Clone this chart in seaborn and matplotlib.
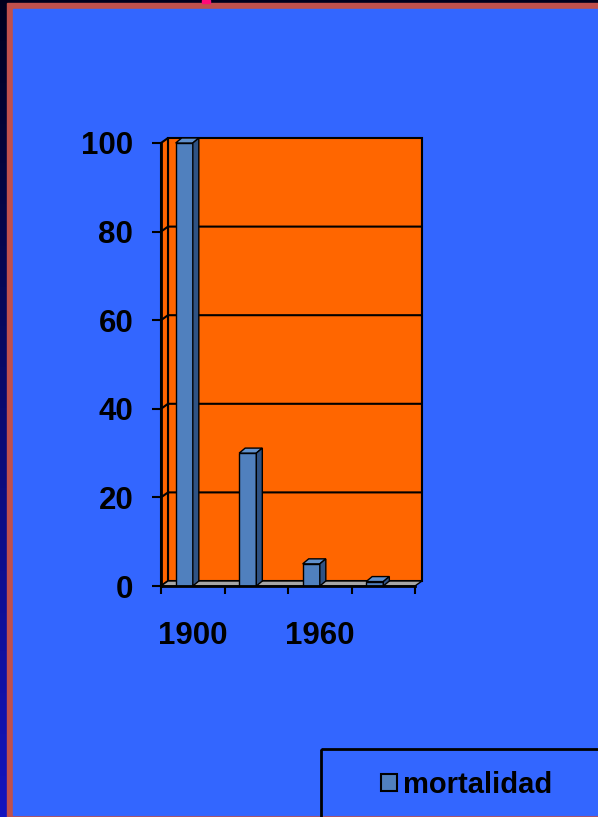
import numpy as np
import matplotlib
matplotlib.use("Agg")
import matplotlib.pyplot as plt
from matplotlib.patches import Rectangle, Polygon, Patch
import seaborn as sns

# --- data ---
years = ["1900", "1930", "1960", "1990"]
mortality = [100, 30, 5, 1]
shown_years = ["1900", "", "1960", ""]
y_ticks = [0, 20, 40, 60, 80, 100]
series_name = "mortalidad"

# --- colours ---
BLUE_BG = "#3366FF"
FRAME_RED = "#C0504D"
WALL = "#FF6600"
FLOOR = "#A6A6A6"
BAR_FRONT = "#5080BE"
BAR_TOP = "#6090CC"
BAR_SIDE = "#2F5283"

W, H, DPI = 598, 817, 100
sns.set_theme(style="white")
plt.rcParams["font.family"] = ["Liberation Sans", "DejaVu Sans"]
plt.rcParams["font.weight"] = "bold"
plt.rcParams["text.color"] = "black"
plt.rcParams["xtick.color"] = "black"
plt.rcParams["ytick.color"] = "black"
plt.rcParams["xtick.labelcolor"] = "black"
plt.rcParams["ytick.labelcolor"] = "black"

fig = plt.figure(figsize=(W / DPI, H / DPI), dpi=DPI)
fig.patch.set_facecolor("#00001C")

# --- slide backdrop, drawn in pixel coordinates ---
bg = fig.add_axes([0, 0, 1, 1], zorder=-5)
bg.set_xlim(0, W)
bg.set_ylim(H, 0)
bg.axis("off")
grad = np.linspace(0, 1, 256).reshape(-1, 1)
cmap = matplotlib.colors.LinearSegmentedColormap.from_list("edge", ["#00001E", "#1414C0"])
bg.imshow(grad, extent=[0, 7.5, H, 0], cmap=cmap, aspect="auto", zorder=0)
bg.add_patch(Rectangle((7, 3), W, H, color=FRAME_RED, zorder=1))
bg.add_patch(Rectangle((13, 9), W, 806, color=BLUE_BG, zorder=2))
bg.add_patch(Rectangle((202, 0), 8, 3, color="#FF0A78", zorder=2))
# legend frame running off the slide edge
bg.add_patch(Rectangle((321, 749), 320, 120, facecolor="none",
                       edgecolor="black", lw=2, zorder=3))

# --- chart axes (front plane) ---
x0p, x1p, y0p, y1p = 161, 415, 586, 143
ax = fig.add_axes([x0p / W, 1 - y0p / H, (x1p - x0p) / W, (y0p - y1p) / H])
ax.patch.set_visible(False)

sns.barplot(x=years, y=mortality, color=BAR_FRONT, width=0.27,
            edgecolor="black", linewidth=1, saturation=1, ax=ax, zorder=3)

ax.set_xlim(-0.5, len(years) - 0.5)
ax.set_ylim(0, 100)

# pixel -> data helpers
px_x = (x1p - x0p) / len(years)
px_y = (y0p - y1p) / 100.0
wall_dx, wall_dy = 7 / px_x, 5 / px_y
bar_dx, bar_dy = 6 / px_x, 5 / px_y
bar_shift = 8.5 / px_x

xmin, xmax = ax.get_xlim()

# back wall, side wall and floor
ax.add_patch(Polygon([(xmin + wall_dx, wall_dy), (xmax + wall_dx, wall_dy),
                      (xmax + wall_dx, 100 + wall_dy), (xmin + wall_dx, 100 + wall_dy)],
                     closed=True, facecolor=WALL, edgecolor="black", lw=1.5,
                     clip_on=False, zorder=0.5))
ax.add_patch(Polygon([(xmin, 0), (xmin, 100), (xmin + wall_dx, 100 + wall_dy),
                      (xmin + wall_dx, wall_dy)],
                     closed=True, facecolor=WALL, edgecolor="black", lw=1.5,
                     clip_on=False, zorder=0.6))
ax.add_patch(Polygon([(xmin, 0), (xmax, 0), (xmax + wall_dx, wall_dy),
                      (xmin + wall_dx, wall_dy)],
                     closed=True, facecolor=FLOOR, edgecolor="black", lw=1,
                     clip_on=False, zorder=0.7))
for v in y_ticks[1:-1]:
    ax.plot([xmin, xmin + wall_dx, xmax + wall_dx], [v, v + wall_dy, v + wall_dy],
            color="black", lw=1.5, clip_on=False, zorder=0.8)

# 3D faces of the columns
for p in ax.patches:
    if p.get_zorder() != 3:
        continue
    p.set_x(p.get_x() - bar_shift)
    bx, bw, bh = p.get_x(), p.get_width(), p.get_height()
    top = Polygon([(bx, bh), (bx + bw, bh), (bx + bw + bar_dx, bh + bar_dy),
                   (bx + bar_dx, bh + bar_dy)], closed=True, facecolor=BAR_TOP,
                  edgecolor="black", lw=1, clip_on=False, zorder=3)
    side = Polygon([(bx + bw, 0), (bx + bw, bh), (bx + bw + bar_dx, bh + bar_dy),
                    (bx + bw + bar_dx, bar_dy)], closed=True, facecolor=BAR_SIDE,
                   edgecolor="black", lw=1, clip_on=False, zorder=3)
    ax.add_patch(top)
    ax.add_patch(side)

# axes lines and ticks
for s in ["top", "right"]:
    ax.spines[s].set_visible(False)
for s in ["left", "bottom"]:
    ax.spines[s].set_color("black")
    ax.spines[s].set_linewidth(2)
    ax.spines[s].set_zorder(5)

ax.set_yticks(y_ticks)
ax.set_yticklabels([str(v) for v in y_ticks], fontsize=22.5, fontweight="bold",
                   color="black")
ax.tick_params(axis="y", direction="out", length=6.5, width=1.5, color="black",
               labelcolor="black", pad=13.5, left=True)

ax.set_xticks(np.arange(len(years) + 1) - 0.5)
ax.set_xticklabels([])
ax.set_xticks(np.arange(len(years)), minor=True)
ax.set_xticklabels(shown_years, minor=True, fontsize=22.5, fontweight="bold",
                   color="black")
ax.tick_params(axis="x", which="major", direction="out", length=6, width=1.5,
               color="black", bottom=True)
ax.tick_params(axis="x", which="minor", length=0, pad=25, labelcolor="black")
ax.set_xlabel("")
ax.set_ylabel("")

# legend
handle = Patch(facecolor=BAR_FRONT, edgecolor="black", lw=1.5)
leg = fig.legend([handle], [series_name], loc="center left",
                 bbox_to_anchor=(381 / W, 1 - 785 / H), frameon=False, borderpad=0,
                 borderaxespad=0, handlelength=0.55, handleheight=0.55,
                 handletextpad=0.2, prop={"size": 21, "weight": "bold"})
for t in leg.get_texts():
    t.set_color("black")

fig.savefig("out.png", dpi=DPI, facecolor=fig.get_facecolor())
